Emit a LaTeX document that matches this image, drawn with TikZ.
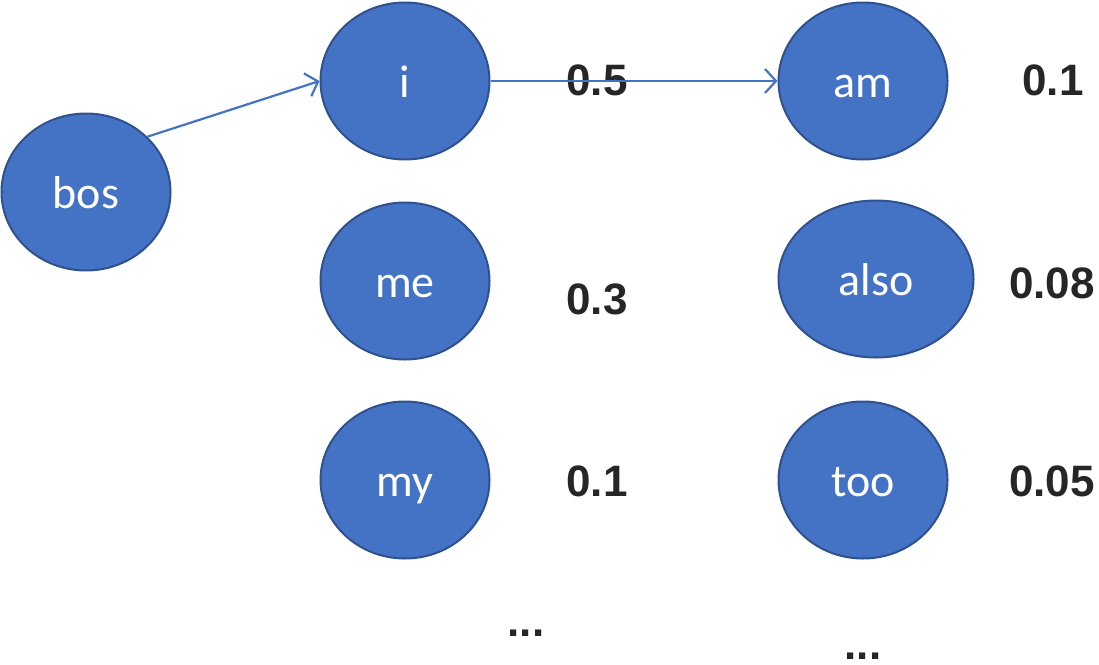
\documentclass[tikz,border=0pt]{standalone}
\usepackage{fontspec}
\setmainfont{Liberation Sans}
\newfontfamily\wordfont{Carlito}
\usetikzlibrary{arrows.meta,shapes.geometric}
\definecolor{nodefill}{HTML}{4472C4}
\definecolor{nodeedge}{HTML}{2F528F}
\definecolor{numcol}{HTML}{262626}
\tikzset{
  word/.style={ellipse, draw=nodeedge, fill=nodefill, line width=2pt,
    minimum width=169pt, minimum height=157pt, inner sep=0pt,
    text=white, font=\wordfont\fontsize{46}{46}\selectfont,
    text height=32pt, text depth=0pt},
  prob/.style={anchor=base, text=numcol, inner sep=0pt,
    font=\bfseries\fontsize{44}{44}\selectfont},
  link/.style={draw=nodefill, line width=2.2pt,
    -{Straight Barb[length=11pt,width=24pt,line width=2.2pt]}}
}
\begin{document}
\begin{tikzpicture}[x=1pt,y=-1pt]
\useasboundingbox (0,0) rectangle (1099,664);
\node[word] (bos) at (86,192) {bos};
\node[word] (i) at (405,81) {i};
\node[word] (me) at (405,281) {me};
\node[word] (my) at (405,480) {my};
\node[word] (am) at (863,81) {am};
\node[word, minimum width=195pt] (also) at (876,279) {also};
\node[word] (too) at (863,480) {too};
\node[prob] (p05) at (597,95) {0.5};
\node[prob] (p03) at (597,314) {0.3};
\node[prob] (p01a) at (597,496) {0.1};
\node[prob] (p01b) at (1053,95) {0.1};
\node[prob] (p008) at (1052,298) {0.08};
\node[prob] (p005) at (1052,496) {0.05};
\node[prob] (dotsa) at (526,636) {...};
\node[prob] (dotsb) at (863,659) {...};
\draw[link] (bos.42) -- (i.west);
\draw[link] (i.east) -- (am.west);
\end{tikzpicture}
\end{document}
